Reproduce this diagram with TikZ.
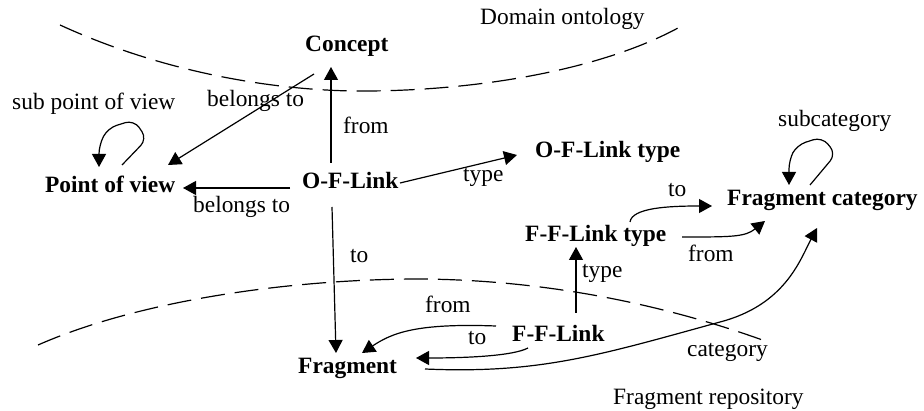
\documentclass[tikz,border=0pt]{standalone}
\usepackage{fontspec}
\setmainfont{Liberation Serif}
\usetikzlibrary{arrows.meta,calc}
\tikzset{
  lbl/.style={anchor=base west, inner sep=0pt, font=\fontsize{23.4}{28}\selectfont},
  ent/.style={anchor=base west, inner sep=0pt, font=\fontsize{23.4}{28}\selectfont\bfseries},
  conn/.style={line width=1.2pt, -{Triangle[length=13pt,width=14pt]}},
  border/.style={line width=1.2pt, dash pattern=on 24pt off 10pt},
}
\begin{document}
\begin{tikzpicture}[x=1pt,y=-1pt]
\useasboundingbox[fill=white] (0,0) rectangle (924,411);

% region borders
\draw[border] (60,25) .. controls (180,80) and (300,92) .. (370,91)
  .. controls (480,90) and (600,70) .. (678,28);
\draw[border] (38,345) .. controls (145,298) and (300,279) .. (420,279)
  .. controls (560,280) and (680,310) .. (768,342);

% region names
\node[lbl] (dom) at (480,25) {Domain ontology};
\node[lbl] (rep) at (613,405) {Fragment repository};

% entities
\node[ent] (concept) at (305,52) {Concept};
\node[ent] (pov) at (45,193) {Point of view};
\node[ent] (ofl) at (302,189) {O-F-Link};
\node[ent] (oflt) at (535,158) {O-F-Link type};
\node[ent] (fcat) at (727,206) {Fragment category};
\node[ent] (fflt) at (525,242) {F-F-Link type};
\node[ent] (ffl) at (512,342) {F-F-Link};
\node[ent] (frag) at (298,374) {Fragment};

% edge labels
\node[lbl] (subpov) at (12,110) {sub point of view};
\node[lbl] (bel1) at (207,107) {belongs to};
\node[lbl] (from1) at (343,134) {from};
\node[lbl] (bel2) at (193,213) {belongs to};
\node[lbl] (type1) at (463,182) {type};
\node[lbl] (subcat) at (778,127) {subcategory};
\node[lbl] (to1) at (668,197) {to};
\node[lbl] (from2) at (688,262) {from};
\node[lbl] (type2) at (582,278) {type};
\node[lbl] (to2) at (350,263) {to};
\node[lbl] (from3) at (425,313) {from};
\node[lbl] (to3) at (468,345) {to};
\node[lbl] (cat) at (687,357) {category};

% connectors
\draw[conn] ([shift={(29,-26)}]ofl.base west) -- ([shift={(26,15)}]concept.base west);
\draw[conn] ([shift={(9,22)}]concept.base west) -- ([shift={(123,-28)}]pov.base west);
\draw[conn] ([shift={(-12,-1)}]ofl.base west) -- ([shift={(138,-5)}]pov.base west);
\draw[conn, rounded corners=9pt] ([shift={(77,-28)}]pov.base west) -- ++(25,-26) -- ++(-13,-19)
  -- ++(-26,8) -- ++(-9,17) -- ([shift={(54,-26)}]pov.base west);
\draw[conn] ([shift={(98,-6)}]ofl.base west) -- ([shift={(-18,-3)}]oflt.base west);
\draw[conn] ([shift={(30,18)}]ofl.base west) -- ([shift={(38,-21)}]frag.base west);
\draw[conn] ([shift={(105,-20)}]fflt.base west) .. controls +(2,-14) and +(-45,0) .. ([shift={(-15,0)}]fcat.base west);
\draw[conn] ([shift={(157,-5)}]fflt.base west) .. controls +(50,0) and +(-20,16) .. ([shift={(38,15)}]fcat.base west);
\draw[conn, rounded corners=9pt] ([shift={(83,-21)}]fcat.base west) -- ++(26,-31) -- ++(-14,-17)
  -- ++(-25,8) -- ++(-8,15) -- ([shift={(62,-21)}]fcat.base west);
\draw[conn] ([shift={(64,-29)}]ffl.base west) -- ([shift={(51,5)}]fflt.base west);
\draw[conn] ([shift={(-16,-16)}]ffl.base west) .. controls +(-80,-3) and +(30,-20) .. ([shift={(64,-21)}]frag.base west);
\draw[conn] ([shift={(16,6)}]ffl.base west) .. controls +(-15,8) and +(50,0) .. ([shift={(118,-16)}]frag.base west);
\coordinate (catmid) at (720,322);
\draw[conn] ([shift={(127,-5)}]frag.base west) .. controls +(115,5) and +(-120,33) .. (catmid)
  .. controls +(65,-17) and +(-17,32) .. ([shift={(90,22)}]fcat.base west);
\end{tikzpicture}
\end{document}
